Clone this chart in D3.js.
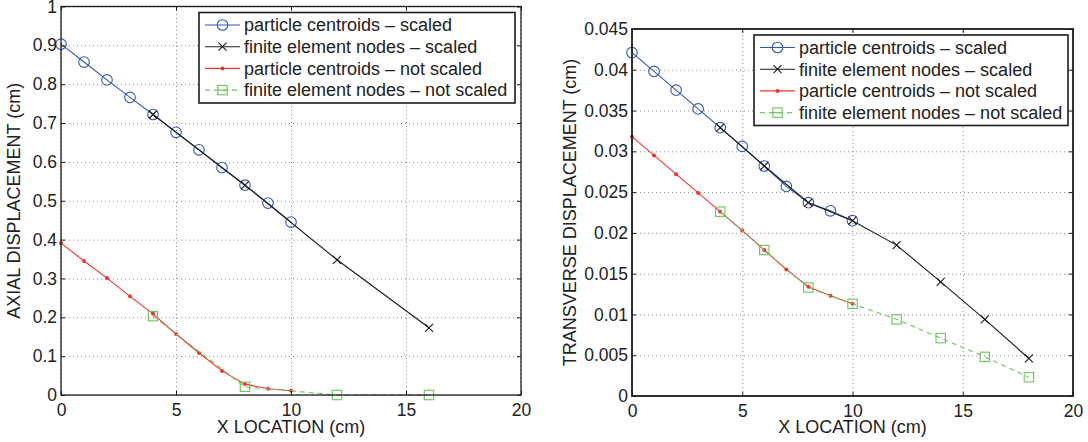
<!DOCTYPE html>
<html>
<head>
<meta charset="utf-8">
<script src="https://d3js.org/d3.v7.min.js"></script>
<style>
  body { margin: 0; background: #fff; }
  svg { display: block; font-family: "Liberation Sans", Arial, Helvetica, sans-serif; }
  .grid line { stroke: #8a8a8a; stroke-width: 1; stroke-dasharray: 1,3; }
  .grid path { display: none; }
</style>
</head>
<body>
<svg id="chart"></svg>
<script>
  var W = 1088, H = 442;

  // x positions (cm)
  var centX = [0, 1, 2, 3, 4, 5, 6, 7, 8, 9, 10];
  var axialNodeX = [4, 8, 12, 16];
  var transNodeX = [4, 6, 8, 10, 12, 14, 16, 18];

  // axial displacement (cm)
  var axialCentScaled = [0.903, 0.857, 0.811, 0.766, 0.722, 0.676, 0.631, 0.585, 0.540, 0.494, 0.445];
  var axialNodeScaled = [0.722, 0.540, 0.348, 0.173];
  var axialCentRaw = [0.391, 0.345, 0.301, 0.254, 0.209, 0.157, 0.108, 0.062, 0.028, 0.016, 0.011];
  var axialNodeRaw = [0.203, 0.021, 0.0, 0.0];

  // transverse displacement (cm)
  var transCentScaled = [0.0421, 0.0398, 0.0375, 0.0352, 0.0329, 0.0306, 0.0282, 0.0257, 0.0237, 0.0227, 0.0215];
  var transNodeScaled = [0.0329, 0.0282, 0.0237, 0.0215, 0.0185, 0.0140, 0.0094, 0.0046];
  var transCentRaw = [0.0318, 0.0295, 0.0272, 0.0249, 0.0226, 0.0203, 0.0179, 0.0155, 0.0134, 0.0123, 0.0113];
  var transNodeRaw = [0.0226, 0.0179, 0.0133, 0.0113, 0.0094, 0.0071, 0.0048, 0.0023];

  // ticks
  var xTicks = [0, 5, 10, 15, 20];
  var axialTicks = [0, 0.1, 0.2, 0.3, 0.4, 0.5, 0.6, 0.7, 0.8, 0.9, 1];
  var axialTickLabels = ["0", "0.1", "0.2", "0.3", "0.4", "0.5", "0.6", "0.7", "0.8", "0.9", "1"];
  var transTicks = [0, 0.005, 0.01, 0.015, 0.02, 0.025, 0.03, 0.035, 0.04, 0.045];
  var transTickLabels = ["0", "0.005", "0.01", "0.015", "0.02", "0.025", "0.03", "0.035", "0.04", "0.045"];

  var seriesNames = ["particle centroids \u2013 scaled", "finite element nodes \u2013 scaled",
                     "particle centroids \u2013 not scaled", "finite element nodes \u2013 not scaled"];

  var BLUE = "#3656b4", BLACK = "#1c1c1c", RED = "#f03434", GREEN = "#6cc45c";

  var svg = d3.select("#chart").attr("width", W).attr("height", H);
  svg.append("rect").attr("width", W).attr("height", H).attr("fill", "#fff");

  var panels = [
    { left: 61, right: 521, top: 6.5, bottom: 395, ymax: 1, yTicks: axialTicks, yLabels: axialTickLabels,
      ylab: "AXIAL DISPLACEMENT (cm)", ylabX: 14, frame: 1.3,
      nodeX: axialNodeX, cs: axialCentScaled, ns: axialNodeScaled, cr: axialCentRaw, nr: axialNodeRaw,
      legend: { x: 199, y: 12.5, w: 316 } },
    { left: 632, right: 1073, top: 29, bottom: 396, ymax: 0.045, yTicks: transTicks, yLabels: transTickLabels,
      ylab: "TRANSVERSE DISPLACEMENT (cm)", ylabX: 570, frame: 1.8,
      nodeX: transNodeX, cs: transCentScaled, ns: transNodeScaled, cr: transCentRaw, nr: transNodeRaw,
      legend: { x: 754, y: 35, w: 314 } }
  ];

  function marker(g, type, x, y) {
    if (type == "circle") {
      g.append("circle").attr("cx", x).attr("cy", y).attr("r", 5.3)
        .attr("fill", "none").attr("stroke", BLUE).attr("stroke-width", 1.1);
    } else if (type == "x") {
      var s = 4;
      g.append("path").attr("d", "M" + (x - s) + "," + (y - s) + "L" + (x + s) + "," + (y + s) +
                                 "M" + (x - s) + "," + (y + s) + "L" + (x + s) + "," + (y - s))
        .attr("stroke", BLACK).attr("stroke-width", 1.1);
    } else if (type == "dot") {
      g.append("circle").attr("cx", x).attr("cy", y).attr("r", 2).attr("fill", RED);
    } else if (type == "square") {
      var h = 4.7;
      g.append("rect").attr("x", x - h).attr("y", y - h).attr("width", 2 * h).attr("height", 2 * h)
        .attr("fill", "none").attr("stroke", GREEN).attr("stroke-width", 1.1);
    }
  }

  panels.forEach(function(p) {
    var x = d3.scaleLinear().domain([0, 20]).range([p.left, p.right]);
    var y = d3.scaleLinear().domain([0, p.ymax]).range([p.bottom, p.top]);
    var w = p.right - p.left, h = p.bottom - p.top;
    var g = svg.append("g");

    // dotted grid
    g.append("g").attr("class", "grid").attr("transform", "translate(0," + p.bottom + ")")
      .call(d3.axisBottom(x).tickValues(xTicks).tickSize(-h).tickFormat(""));
    g.append("g").attr("class", "grid").attr("transform", "translate(" + p.left + ",0)")
      .call(d3.axisLeft(y).tickValues(p.yTicks).tickSize(-w).tickFormat(""));

    // series
    var series = [
      { xs: centX, ys: p.cs, color: BLUE, mk: "circle", dash: null },
      { xs: p.nodeX, ys: p.ns, color: BLACK, mk: "x", dash: null },
      { xs: centX, ys: p.cr, color: RED, mk: "dot", dash: null },
      { xs: p.nodeX, ys: p.nr, color: GREEN, mk: "square", dash: "5,4" }
    ];
    var line = d3.line().x(function(d) { return x(d[0]); }).y(function(d) { return y(d[1]); });
    series.forEach(function(s) {
      var pts = s.xs.map(function(v, i) { return [v, s.ys[i]]; });
      g.append("path").datum(pts).attr("d", line).attr("fill", "none")
        .attr("stroke", s.color).attr("stroke-width", 1.1).attr("stroke-dasharray", s.dash);
      pts.forEach(function(d) { marker(g, s.mk, x(d[0]), y(d[1])); });
    });

    // axes with inward ticks on all four sides
    var fmt = function(d, i) { return p.yLabels[i]; };
    var axes = [
      g.append("g").attr("transform", "translate(0," + p.bottom + ")")
        .call(d3.axisBottom(x).tickValues(xTicks).tickSize(-4).tickPadding(9)),
      g.append("g").attr("transform", "translate(0," + p.top + ")")
        .call(d3.axisTop(x).tickValues(xTicks).tickSize(-4).tickFormat("")),
      g.append("g").attr("transform", "translate(" + p.left + ",0)")
        .call(d3.axisLeft(y).tickValues(p.yTicks).tickSize(-4).tickPadding(4).tickFormat(fmt)),
      g.append("g").attr("transform", "translate(" + p.right + ",0)")
        .call(d3.axisRight(y).tickValues(p.yTicks).tickSize(-4).tickFormat(""))
    ];
    axes.forEach(function(a) {
      a.select(".domain").remove();
      a.selectAll("line").attr("stroke", BLACK).attr("stroke-width", 1);
      a.selectAll("text").attr("font-size", "17.5px").attr("fill", "#222")
        .attr("font-family", "Liberation Sans, Arial, sans-serif");
    });

    g.append("rect").attr("x", p.left).attr("y", p.top).attr("width", w).attr("height", h)
      .attr("fill", "none").attr("stroke", BLACK).attr("stroke-width", p.frame);

    // axis labels
    g.append("text").attr("x", (p.left + p.right) / 2).attr("y", 433)
      .attr("text-anchor", "middle").attr("font-size", "18px").attr("fill", "#222")
      .text("X LOCATION (cm)");
    g.append("text")
      .attr("transform", "translate(" + p.ylabX + "," + ((p.top + p.bottom) / 2) + ") rotate(-90)")
      .attr("text-anchor", "middle").attr("dominant-baseline", "central")
      .attr("font-size", "18px").attr("fill", "#222").text(p.ylab);

    // legend
    var L = p.legend, rowH = 21.7;
    var lg = g.append("g");
    lg.append("rect").attr("x", L.x).attr("y", L.y).attr("width", L.w).attr("height", 90.5)
      .attr("fill", "#fff").attr("stroke", BLACK).attr("stroke-width", 1.6);
    series.forEach(function(s, i) {
      var cy = L.y + 12.5 + i * rowH;
      lg.append("line").attr("x1", L.x + 6).attr("x2", L.x + 41).attr("y1", cy).attr("y2", cy)
        .attr("stroke", s.color).attr("stroke-width", 1.1).attr("stroke-dasharray", s.dash);
      marker(lg, s.mk, L.x + 23.5, cy);
      if (s.mk == "square") {
        lg.append("line").attr("x1", L.x + 19).attr("x2", L.x + 28).attr("y1", cy).attr("y2", cy)
          .attr("stroke", GREEN).attr("stroke-width", 1.1);
      }
      lg.append("text").attr("x", L.x + 45).attr("y", cy).attr("dy", "0.35em")
        .attr("font-size", "18px").attr("fill", "#222").text(seriesNames[i]);
    });
  });
</script>
</body>
</html>
